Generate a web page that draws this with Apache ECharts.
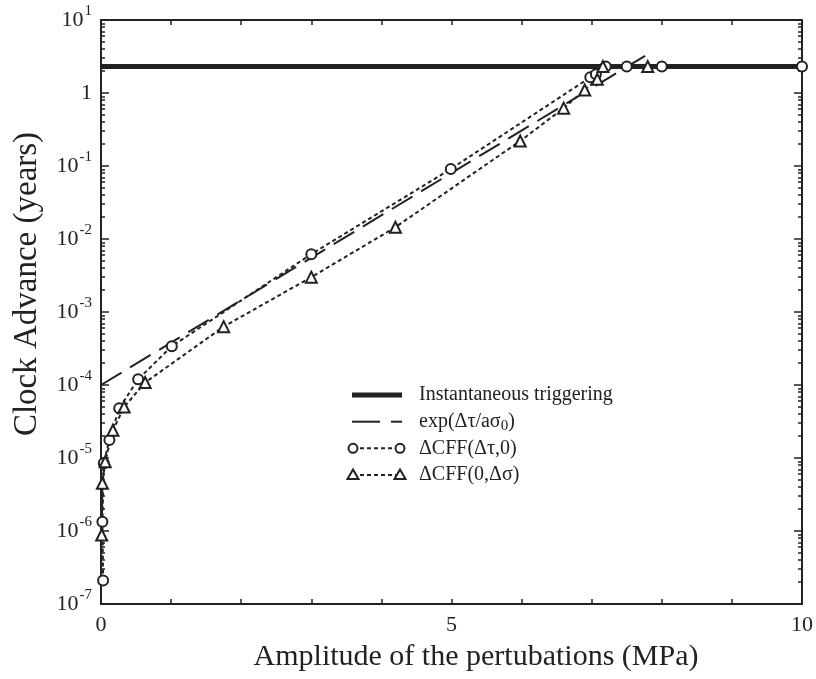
<!DOCTYPE html>
<html>
<head>
<meta charset="utf-8">
<script src="https://cdn.jsdelivr.net/npm/echarts@6/dist/echarts.min.js"></script>
<style>
html,body{margin:0;padding:0;background:#fff;}
#chart{width:816px;height:679px;}
</style>
</head>
<body>
<div id="chart"></div>
<script>
// ---- data ----
var instantTriggering = [[0, 2.3], [10, 2.3]];
var expLine = [[0, 1.0e-4], [7.8, 3.4]];
var cffTau = [[0.03, 2.1e-7], [0.02, 1.34e-6], [0.04, 8.5e-6], [0.12, 1.77e-5], [0.26, 4.8e-5], [0.53, 1.2e-4], [1.01, 3.4e-4], [3.0, 6.2e-3], [4.99, 0.091], [6.98, 1.64], [7.06, 1.8], [7.2, 2.3], [7.5, 2.3], [8.0, 2.3], [10.0, 2.3]];
var cffSigma = [[0.01, 8.8e-7], [0.02, 4.5e-6], [0.06, 8.9e-6], [0.17, 2.4e-5], [0.33, 5.0e-5], [0.63, 1.08e-4], [1.75, 6.3e-4], [3.0, 3.0e-3], [4.2, 0.0145], [5.98, 0.22], [6.6, 0.62], [6.9, 1.1], [7.08, 1.54], [7.16, 2.3], [7.8, 2.3]];
var yDecades = [1e-7, 1e-6, 1e-5, 1e-4, 1e-3, 1e-2, 1e-1, 1, 10];
var xTickLabels = [0, 5, 10];
var legendNames = ['Instantaneous triggering', 'exp(\u0394\u03c4/a\u03c3{sub|0})', '\u0394CFF(\u0394\u03c4,0)', '\u0394CFF(0,\u0394\u03c3)'];

var yMinor = [];
for (var i = 0; i < yDecades.length - 1; i++) {
  for (var m = 2; m <= 9; m++) yMinor.push(+(m * yDecades[i]).toPrecision(3));
}

var INK = '#222';
var FONT = '"Liberation Serif", "Times New Roman", serif';

function yLabel(v) {
  var e = Math.round(Math.log10(v));
  if (e === 0) return '{one|1}';
  return '{b|10}{s|' + e + '}';
}

var richY = {
  one: {fontSize: 22, fontFamily: FONT, color: INK},
  b: {fontSize: 22, lineHeight: 22, fontFamily: FONT, color: INK, verticalAlign: 'bottom'},
  s: {fontSize: 15, lineHeight: 15, fontFamily: FONT, color: INK, verticalAlign: 'bottom', padding: [0, 0, 12, 1]}
};

function yAxisDef(pos, ticks, len, showLine, showLabel) {
  return {
    type: 'log', logBase: 10, min: 1e-7, max: 10, position: pos,
    axisLine: {show: showLine, lineStyle: {color: INK, width: 2}},
    axisTick: {show: true, inside: true, length: len, customValues: ticks, lineStyle: {color: INK, width: 1.5}},
    axisLabel: {show: showLabel, customValues: yDecades, formatter: yLabel, rich: richY, margin: 9},
    splitLine: {show: false}, minorTick: {show: false}, minorSplitLine: {show: false}
  };
}

function xAxisDef(pos, showLabel) {
  return {
    type: 'value', min: 0, max: 10, interval: 5, position: pos,
    axisLine: {show: true, onZero: false, lineStyle: {color: INK, width: 2}},
    axisTick: {show: true, inside: true, length: 5, lineStyle: {color: INK, width: 1.5}},
    minorTick: {show: true, splitNumber: 5, length: 5, lineStyle: {color: INK, width: 1.5}},
    axisLabel: {show: showLabel, customValues: xTickLabels, fontSize: 22, fontFamily: FONT, color: INK, margin: 10},
    splitLine: {show: false}, minorSplitLine: {show: false}
  };
}

var dotted = {color: INK, width: 2, type: [4, 3]};

var chart = echarts.init(document.getElementById('chart'), null, {renderer: 'canvas'});
var L = {x0: 352, x1: 402, tx: 419, rows: [395, 421.7, 448.3, 475]};
var tri = function (cx, cy) { return [[cx, cy - 5.5], [cx + 5.5, cy + 4], [cx - 5.5, cy + 4]]; };

chart.setOption({
  animation: false,
  backgroundColor: '#fff',
  grid: {left: 101, right: 11, top: 20, bottom: 75, containLabel: false},
  xAxis: [xAxisDef('bottom', true), xAxisDef('top', false)],
  yAxis: [
    yAxisDef('left', yDecades, 8, true, true),
    yAxisDef('left', yMinor, 4, false, false),
    yAxisDef('right', yDecades, 8, true, false),
    yAxisDef('right', yMinor, 4, false, false)
  ],
  series: [
    {name: 'Instantaneous triggering', type: 'line', data: instantTriggering, symbol: 'none',
      lineStyle: {color: INK, width: 5}, z: 3},
    {name: 'exp', type: 'line', data: expLine, symbol: 'none',
      lineStyle: {color: INK, width: 2, type: [24, 10]}, z: 3},
    {name: 'cffTau', type: 'line', data: cffTau, symbol: 'circle', symbolSize: 10, showAllSymbol: true,
      itemStyle: {color: '#fff', borderColor: INK, borderWidth: 2}, lineStyle: dotted, z: 4},
    {name: 'cffSigma', type: 'line', data: cffSigma, symbol: 'triangle', symbolSize: 11, showAllSymbol: true,
      itemStyle: {color: '#fff', borderColor: INK, borderWidth: 2}, lineStyle: dotted, z: 4}
  ],
  graphic: [
    {type: 'text', x: 476, y: 657, style: {text: 'Amplitude of the pertubations (MPa)', font: '30px ' + FONT, fill: INK, align: 'center', verticalAlign: 'middle'}},
    {type: 'text', x: 27, y: 284, rotation: Math.PI / 2, style: {text: 'Clock Advance (years)', font: '33px ' + FONT, fill: INK, align: 'center', verticalAlign: 'middle'}},
    // legend samples
    {type: 'line', shape: {x1: L.x0, y1: L.rows[0], x2: L.x1, y2: L.rows[0]}, style: {stroke: INK, lineWidth: 5}},
    {type: 'line', shape: {x1: L.x0, y1: L.rows[1], x2: 380, y2: L.rows[1]}, style: {stroke: INK, lineWidth: 2}},
    {type: 'line', shape: {x1: 391, y1: L.rows[1], x2: L.x1, y2: L.rows[1]}, style: {stroke: INK, lineWidth: 2}},
    {type: 'line', shape: {x1: 353, y1: L.rows[2], x2: 400, y2: L.rows[2]}, style: {stroke: INK, lineWidth: 2, lineDash: [4, 3]}},
    {type: 'circle', shape: {cx: 353, cy: L.rows[2], r: 4.5}, style: {fill: '#fff', stroke: INK, lineWidth: 2}},
    {type: 'circle', shape: {cx: 400, cy: L.rows[2], r: 4.5}, style: {fill: '#fff', stroke: INK, lineWidth: 2}},
    {type: 'line', shape: {x1: 353, y1: L.rows[3], x2: 400, y2: L.rows[3]}, style: {stroke: INK, lineWidth: 2, lineDash: [4, 3]}},
    {type: 'polygon', shape: {points: tri(353, L.rows[3])}, style: {fill: '#fff', stroke: INK, lineWidth: 2}},
    {type: 'polygon', shape: {points: tri(400, L.rows[3])}, style: {fill: '#fff', stroke: INK, lineWidth: 2}},
    {type: 'text', x: L.tx, y: L.rows[0], style: {text: legendNames[0], font: '20px ' + FONT, fill: INK, verticalAlign: 'middle'}},
    {type: 'text', x: L.tx, y: L.rows[1], style: {text: legendNames[1], fill: INK, verticalAlign: 'middle',
      rich: {sub: {fontSize: 15, fontFamily: FONT, fill: INK, verticalAlign: 'bottom', padding: [8, 0, 0, 0]}}, fontSize: 20, fontFamily: FONT}},
    {type: 'text', x: L.tx, y: L.rows[2], style: {text: legendNames[2], font: '20px ' + FONT, fill: INK, verticalAlign: 'middle'}},
    {type: 'text', x: L.tx, y: L.rows[3], style: {text: legendNames[3], font: '20px ' + FONT, fill: INK, verticalAlign: 'middle'}}
  ]
});
</script>
</body>
</html>
